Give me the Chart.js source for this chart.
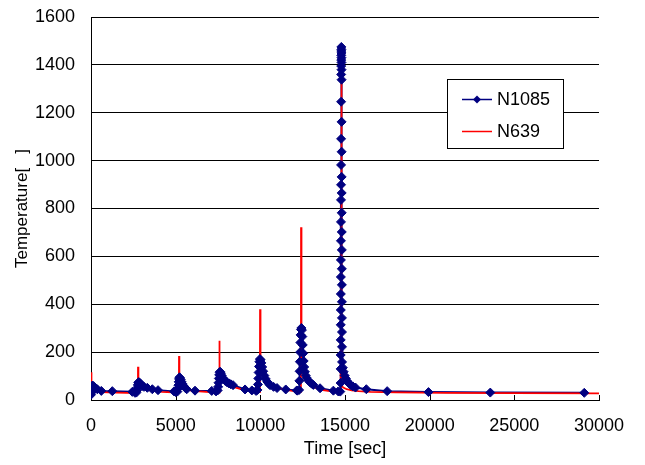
<!DOCTYPE html>
<html>
<head>
<meta charset="utf-8">
<script src="https://cdn.jsdelivr.net/npm/chart.js@4/dist/chart.umd.min.js"></script>
<style>
  html, body { margin: 0; padding: 0; background: #fff; }
</style>
</head>
<body>
<canvas id="tempchart" width="645" height="465"></canvas>
<script>
// N1085 (navy, diamonds)
const timeN1085 = [
  0, 10, 20, 35, 55, 80, 110, 150, 200, 260, 372, 608, 1258, 2440,
  2600, 2680, 2720, 2745, 2765, 2790, 2820, 2860, 2910, 2970, 3040, 3130, 3326, 3621, 3958, 4903,
  5003, 5100, 5140, 5160, 5180, 5200, 5225, 5260, 5300, 5350, 5410, 5480, 5560, 5653, 6143,
  7130, 7384, 7480, 7510, 7530, 7550, 7570, 7595, 7630, 7670, 7720, 7780, 7850, 7930, 8016, 8130, 8250, 8388, 9097,
  9500, 9747, 9830, 9860, 9880, 9900, 9920, 9945, 9975, 10015, 10060, 10110, 10170, 10240, 10320, 10410, 10500, 10574, 10780, 10987, 11501, 12151,
  12186, 12290, 12305, 12320, 12335, 12350, 12365, 12380, 12400, 12425, 12455, 12480, 12505, 12530, 12560, 12590, 12630, 12680, 12741, 12830, 12930, 13030, 13131, 13527, 14313,
  14600, 14720,
  14742, 14744, 14746, 14748, 14750, 14752, 14754, 14756, 14758, 14760, 14762,
  14764, 14766, 14768, 14770, 14772, 14774, 14776, 14778, 14780, 14782, 14784,
  14787, 14789, 14791, 14793, 14795, 14797, 14799, 14801, 14803, 14805,
  14807, 14809, 14811, 14813, 14815, 14817, 14819, 14821, 14823, 14825,
  14870, 14920, 14980, 15050, 15130, 15220, 15330, 15460, 15620, 16260, 17490, 19930, 23580, 29130
]
const tempN1085 = [
  22, 30, 40, 50, 57, 60, 60, 57, 53, 49, 45, 38, 37, 34,
  30, 31, 40, 52, 63, 72, 75, 73, 69, 64, 59, 55, 51, 45, 41, 36,
  33, 35, 48, 62, 76, 88, 95, 92, 85, 76, 67, 58, 51, 45, 39,
  38, 36, 40, 55, 72, 90, 105, 116, 118, 112, 102, 93, 86, 80, 75, 70, 66, 62, 44,
  40, 38, 42, 65, 90, 115, 140, 160, 171, 168, 155, 138, 120, 102, 88, 76, 68, 62, 55, 50, 44, 40,
  39, 42, 80, 120, 160, 200, 240, 272, 295, 301, 292, 265, 230, 195, 163, 138, 118, 102, 92, 82, 74, 68, 63, 49, 39,
  36, 35,
  71, 130, 188, 251, 314, 376, 443, 514, 585, 665, 744,
  836, 899, 982, 1091, 1246, 1360, 1395, 1420, 1440, 1458, 1475,
  1465, 1450, 1430, 1410, 1380, 1338, 1162, 1037, 932, 865,
  782, 702, 627, 548, 481, 410, 343, 284, 222, 159,
  135, 118, 102, 90, 79, 70, 63, 57, 52, 45, 37, 33, 31, 30
]

// N639 (red line)
const timeN639 = [
  0, 15, 40, 100, 250, 600, 1500, 2700,
  2770, 2776, 2800, 2950, 3200, 3600, 4200, 5100,
  5190, 5198, 5220, 5350, 5600, 6000, 6800, 7500,
  7570, 7579, 7600, 7700, 8000, 8400, 9000, 9900,
  9975, 9983, 10010, 10150, 10400, 10800, 11500, 12300,
  12397, 12405, 12430, 12550, 12800, 13100, 13600, 14300, 14740,
  14770, 14790, 14800, 14900, 15100, 15400, 15800, 16500, 18000, 21000, 25000, 30000
]
const tempN639 = [
  20, 116, 45, 40, 36, 33, 31, 29,
  30, 139, 55, 52, 45, 38, 34, 31,
  31, 184, 70, 60, 45, 38, 34, 31,
  31, 248, 100, 90, 68, 55, 42, 33,
  33, 379, 150, 115, 75, 55, 42, 34,
  34, 722, 180, 120, 75, 55, 42, 35, 32,
  500, 1440, 60, 52, 45, 40, 37, 34, 32, 30, 29, 28
]

const seriesNames = ['N1085', 'N639']
const xTickValues = [0, 5000, 10000, 15000, 20000, 25000, 30000]
const yTickValues = [0, 200, 400, 600, 800, 1000, 1200, 1400, 1600]

const BLUE = '#000080'
const RED = '#ff0000'
const FONT = "'Liberation Sans', Arial, sans-serif"

const toPoints = (xs, ys) => xs.map((x, i) => ({ x: x, y: ys[i] }))

// small inward tick marks on the time axis
const innerTicks = {
  id: 'innerTicks',
  beforeDatasetsDraw (chart) {
    const { ctx, scales: { x }, chartArea } = chart
    ctx.save()
    ctx.strokeStyle = '#000'
    ctx.lineWidth = 1
    xTickValues.forEach(v => {
      const px = Math.round(x.getPixelForValue(v)) + 0.5
      ctx.beginPath()
      ctx.moveTo(px, chartArea.bottom)
      ctx.lineTo(px, chartArea.bottom - 5)
      ctx.stroke()
    })
    ctx.restore()
  }
}

// boxed legend inside the plot
const boxLegend = {
  id: 'boxLegend',
  afterDraw (chart) {
    const ctx = chart.ctx
    const left = 447.5
    const top = 79.5
    ctx.save()
    ctx.fillStyle = '#fff'
    ctx.strokeStyle = '#000'
    ctx.lineWidth = 1
    ctx.fillRect(left, top, 116, 69)
    ctx.strokeRect(left, top, 116, 69)
    const rows = [{ y: 99.5, color: BLUE, marker: true }, { y: 131.5, color: RED, marker: false }]
    rows.forEach((r, i) => {
      ctx.strokeStyle = r.color
      ctx.lineWidth = 1.5
      ctx.beginPath()
      ctx.moveTo(462, r.y)
      ctx.lineTo(492, r.y)
      ctx.stroke()
      if (r.marker) {
        ctx.fillStyle = r.color
        ctx.beginPath()
        ctx.moveTo(477, r.y - 4)
        ctx.lineTo(481, r.y)
        ctx.lineTo(477, r.y + 4)
        ctx.lineTo(473, r.y)
        ctx.closePath()
        ctx.fill()
      }
      ctx.fillStyle = '#000'
      ctx.font = '18px ' + FONT
      ctx.textBaseline = 'middle'
      ctx.textAlign = 'left'
      ctx.fillText(seriesNames[i], 497, r.y + 1)
    })
    ctx.restore()
  }
}

new Chart(document.getElementById('tempchart'), {
  type: 'scatter',
  data: {
    datasets: [
      {
        label: seriesNames[0] + ' markers',
        data: toPoints(timeN1085, tempN1085),
        showLine: false,
        pointStyle: 'rectRot',
        pointRadius: 4.5,
        pointBorderWidth: 1,
        pointBackgroundColor: BLUE,
        pointBorderColor: BLUE,
        order: 0
      },
      {
        label: seriesNames[1],
        data: toPoints(timeN639, tempN639),
        showLine: true,
        borderColor: RED,
        borderWidth: 1.8,
        pointRadius: 0,
        order: 1
      },
      {
        label: seriesNames[0],
        data: toPoints(timeN1085, tempN1085),
        showLine: true,
        borderColor: BLUE,
        borderWidth: 2,
        pointRadius: 0,
        order: 2
      }
    ]
  },
  options: {
    responsive: false,
    animation: false,
    devicePixelRatio: 1,
    layout: { padding: { top: 17, right: 46, bottom: 0, left: 0 } },
    plugins: {
      legend: { display: false },
      tooltip: { enabled: false }
    },
    scales: {
      x: {
        type: 'linear',
        min: 0,
        max: 30000,
        afterBuildTicks: s => { s.ticks = xTickValues.map(v => ({ value: v })) },
        afterFit: s => {
          s.height = 65
          s.paddingLeft = 0
          s.paddingRight = 0
        },
        grid: { display: false, drawTicks: false },
        border: { display: true, color: '#000', width: 1 },
        ticks: {
          color: '#000',
          padding: 15,
          maxRotation: 0,
          autoSkip: false,
          callback: v => String(v),
          font: { family: FONT, size: 18 }
        },
        title: {
          display: true,
          text: 'Time [sec]',
          color: '#000',
          padding: { top: 0, bottom: 5 },
          font: { family: FONT, size: 18 }
        }
      },
      y: {
        type: 'linear',
        min: 0,
        max: 1600,
        afterBuildTicks: s => { s.ticks = yTickValues.map(v => ({ value: v })) },
        afterFit: s => {
          s.width = 91
          s.paddingTop = 0
          s.paddingBottom = 0
        },
        grid: { color: '#000', lineWidth: 1, drawTicks: false },
        border: { display: true, color: '#000', width: 1 },
        ticks: {
          color: '#000',
          padding: 16,
          autoSkip: false,
          callback: v => String(v),
          font: { family: FONT, size: 18 }
        },
        title: {
          display: true,
          text: 'Temperature[   ]',
          color: '#000',
          padding: { top: 12, bottom: 0 },
          font: { family: FONT, size: 17 }
        }
      }
    }
  },
  plugins: [innerTicks, boxLegend]
})
</script>
</body>
</html>
